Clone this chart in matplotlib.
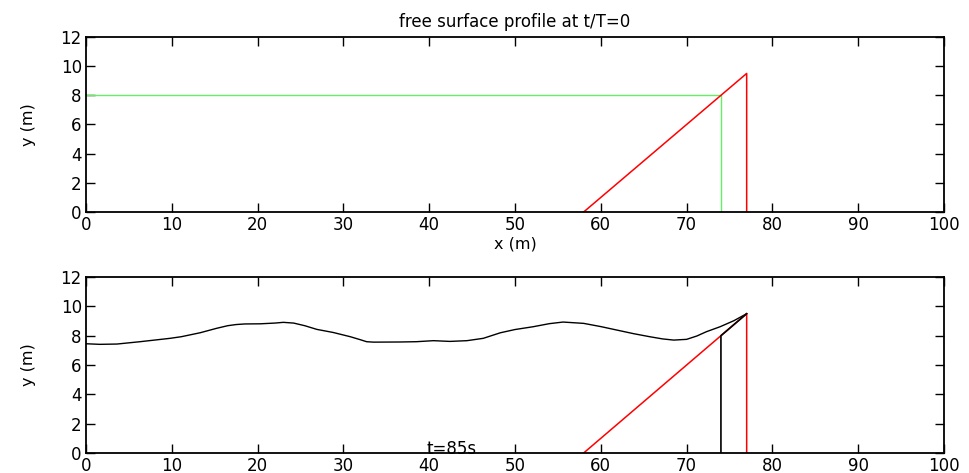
import matplotlib.pyplot as plt

plt.rcParams["font.family"] = ["DejaVu Sans"]
plt.rcParams["font.size"] = 12

# initial still-water level and wall (green), t/T = 0
still_x = [0, 74, 74]
still_y = [8, 8, 0]

# sloping bed / structure outline (red)
bed_x = [58, 77, 77]
bed_y = [0, 9.5, 0]

# free surface at t = 85 s (black)
surf_x = [0, 1.6, 3.6, 6.3, 9.8, 11.1, 13.3, 15.2, 16.5, 17.5, 18.5, 20.3,
          22.0, 23.0, 24.2, 25.5, 26.9, 28.8, 30.8, 32.0, 32.7, 33.5, 36.6,
          38.5, 40.5, 42.4, 44.4, 46.3, 48.3, 50.0, 52.1, 54.0, 55.6, 58.0,
          60.0, 61.9, 63.8, 65.7, 67.2, 68.5, 70.0, 71.2, 72.3, 73.9, 75.5, 77.0]
surf_y = [7.45, 7.41, 7.43, 7.59, 7.82, 7.93, 8.2, 8.5, 8.68, 8.76, 8.80, 8.81,
          8.86, 8.91, 8.86, 8.68, 8.43, 8.22, 7.93, 7.72, 7.59, 7.56, 7.57,
          7.59, 7.66, 7.61, 7.66, 7.82, 8.2, 8.42, 8.61, 8.82, 8.93, 8.84,
          8.62, 8.38, 8.14, 7.93, 7.78, 7.70, 7.75, 7.98, 8.27, 8.61, 9.02, 9.5]

wall_x = [74, 74, 77]
wall_y = [0, 8, 9.5]

xticks = list(range(0, 101, 10))
yticks = list(range(0, 13, 2))

fig = plt.figure(figsize=(9.7, 4.73), dpi=100)
ax1 = fig.add_axes([0.0887, 0.5518, 0.8845, 0.370])
ax2 = fig.add_axes([0.0887, 0.0423, 0.8845, 0.372])

for ax in (ax1, ax2):
    ax.set_xlim(0, 100)
    ax.set_ylim(0, 12)
    ax.set_xticks(xticks)
    ax.set_yticks(yticks)
    ax.tick_params(direction="in", length=6.5, width=1, top=True, right=True,
                   labelsize=12, pad=3)
    for s in ax.spines.values():
        s.set_linewidth(1.3)
    ax.set_ylabel("y (m)", labelpad=18, fontsize=11.5)

ax1.plot(still_x, still_y, color="#66ee66", lw=1)
ax1.plot(bed_x, bed_y, color="red", lw=1.1)
ax1.set_title("free surface profile at t/T=0", fontsize=12, pad=7)
ax1.set_xlabel("x (m)", labelpad=2, fontsize=11.5)

ax2.plot(surf_x, surf_y, color="black", lw=1)
ax2.plot(bed_x, bed_y, color="red", lw=1.1)
ax2.plot(wall_x, wall_y, color="black", lw=1.2)
ax2.text(39.7, -0.05, "t=85s", fontsize=12, va="baseline", ha="left")

fig.savefig("out.png", dpi=100)
